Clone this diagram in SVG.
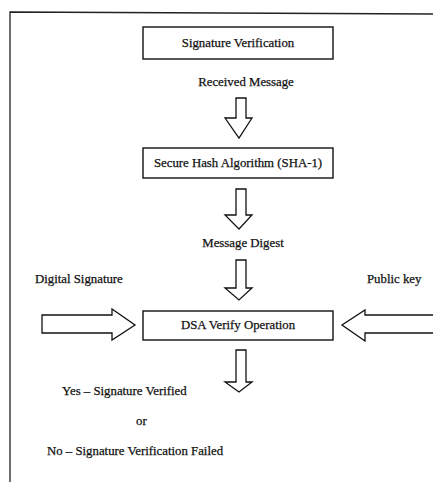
<svg xmlns="http://www.w3.org/2000/svg" width="433" height="482" viewBox="0 0 433 482">
<style>
.box{fill:#fff;stroke:#111;stroke-width:1.4}
.arr{fill:#fff;stroke:#111;stroke-width:1.3;stroke-linejoin:miter}
.t{font-family:"Liberation Serif","Times New Roman",serif;font-size:12.8px;fill:#111;stroke:#111;stroke-width:0.25}
.c{text-anchor:middle}
.frame{fill:none;stroke:#222;stroke-width:1.3}
</style>
<rect width="433" height="482" fill="#fff"/>
<g id="frame"><polyline class="frame" points="10,482 10,12 433,14"/></g>
<g id="n1"><rect class="box" x="143" y="27" width="190" height="32"/><text class="t c" x="238" y="47">Signature Verification</text></g>
<g id="n2"><rect class="box" x="143" y="148" width="190" height="30"/><text class="t c" x="238" y="167">Secure Hash Algorithm (SHA-1)</text></g>
<g id="n3"><rect class="box" x="143" y="311" width="190" height="29"/><text class="t c" x="238" y="329">DSA Verify Operation</text></g>
<g id="labels">
<text class="t c" x="246" y="86">Received Message</text>
<text class="t c" x="243" y="247">Message Digest</text>
<text class="t" x="35" y="283">Digital Signature</text>
<text class="t" x="367" y="283">Public key</text>
<text class="t" x="62" y="395">Yes – Signature Verified</text>
<text class="t" x="136" y="425">or</text>
<text class="t" x="47" y="455">No – Signature Verification Failed</text>
</g>
<g id="connectors">
<polygon class="arr" points="236,98 246,98 246,118 252,118 239,138 225,118 236,118"/>
<polygon class="arr" points="236,189 246,189 246,215 252,215 239,229 225,215 236,215"/>
<polygon class="arr" points="236,260 246,260 246,288 252,288 239,300 225,288 236,288"/>
<polygon class="arr" points="236,350 246,350 246,382 252,382 239,392 225,382 236,382"/>
<polygon class="arr" points="42,315 112,315 112,309 135,325 112,340 112,333 42,333"/>
<polygon class="arr" points="440,315 365,315 365,310 342,325 365,341 365,333 440,333"/>
</g>
</svg>
